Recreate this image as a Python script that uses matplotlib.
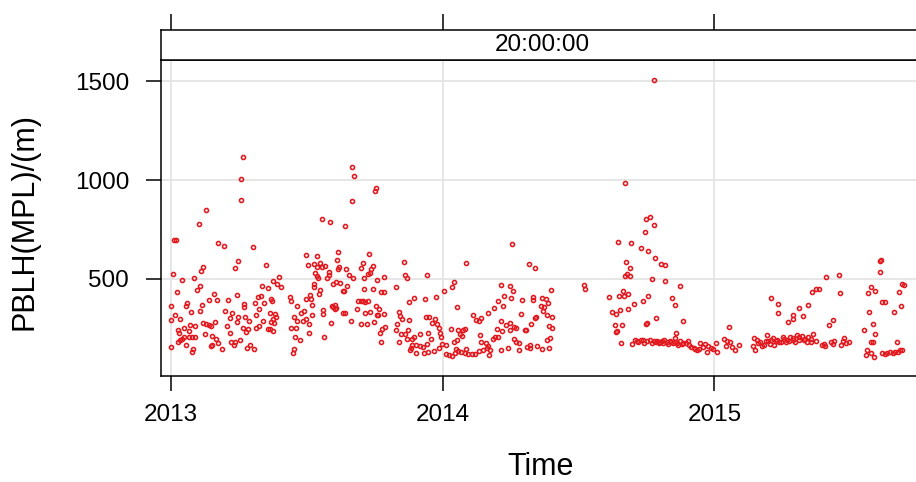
import numpy as np
import matplotlib
matplotlib.use("Agg")
import matplotlib.pyplot as plt

plt.rcParams['font.family'] = ['Liberation Sans', 'DejaVu Sans']

# ---------------- data (days since 2013-01-01, PBLH in m) ----------------
start_date = "2013-01-01"
strip_label = "20:00:00"
x_label = "Time"
y_label = "PBLH(MPL)/(m)"
year_ticks = ["2013-01-01", "2014-01-01", "2015-01-01"]
year_labels = ["2013", "2014", "2015"]
y_ticks = [500, 1000, 1500]

# Jan - May 2013
days_p1 = [97, 95, 94, 48, 38, 4, 7, 63, 71, 111, 90, 86, 44, 41, 128, 3, 31, 15, 39, 35,
           8, 123, 130, 58, 89, 52, 62, 77, 22, 21, 42, 0, 98, 99, 113, 117, 121, 125, 27, 40,
           73, 6, 13, 0, 82, 91, 100, 115, 118, 79, 89, 105, 124, 43, 48, 51, 54, 60, 26, 32,
           18, 10, 11, 76, 97, 104, 101, 115, 119, 24, 46, 56, 79, 130, 18, 24, 29, 33, 13, 10,
           15, 20, 1, 61, 64, 54, 55, 81, 85, 86, 93, 69, 30, 28, 103, 107, 112]
pblh_p1 = [1115, 1003, 897, 851, 776, 695, 695, 681, 664, 659, 588, 554, 559, 540, 571, 522, 503, 495, 464, 441,
           434, 464, 452, 424, 417, 393, 391, 393, 380, 364, 366, 361, 375, 356, 376, 410, 415, 377, 332, 339,
           339, 317, 297, 290, 325, 307, 305, 319, 346, 303, 280, 288, 288, 278, 273, 268, 261, 280, 268, 261,
           251, 242, 225, 259, 253, 244, 232, 253, 263, 236, 222, 212, 227, 246, 205, 203, 203, 207, 188, 180,
           195, 163, 156, 195, 175, 160, 165, 178, 163, 178, 190, 143, 146, 130, 148, 163, 143]

# May - Oct 2013
days_p2 = [244, 246, 275, 274, 244, 203, 214, 234, 182, 197, 224, 266, 223, 184, 193, 197, 201, 203, 207, 226,
           225, 236, 258, 256, 271, 269, 212, 194, 196, 198, 210, 212, 239, 245, 265, 268, 260, 146, 138, 143,
           148, 192, 192, 218, 222, 227, 237, 260, 272, 200, 199, 231, 233, 187, 182, 188, 135, 136, 160, 161,
           170, 190, 216, 218, 220, 220, 222, 251, 255, 258, 261, 265, 250, 231, 234, 261, 268, 275, 179, 175,
           190, 204, 205, 133, 140, 142, 137, 135, 139, 166, 169, 178, 181, 186, 161, 168, 242, 215, 256, 264,
           273, 133, 138, 186, 167, 206, 174, 166, 164]
pblh_p2 = [1066, 1022, 961, 946, 893, 802, 790, 769, 620, 615, 637, 628, 597, 571, 573, 561, 580, 559, 564, 559,
           552, 550, 578, 553, 566, 549, 537, 529, 512, 503, 505, 517, 519, 502, 526, 527, 503, 510, 488, 475,
           461, 475, 458, 474, 484, 479, 464, 447, 447, 444, 424, 436, 437, 420, 398, 400, 397, 390, 408, 390,
           363, 368, 364, 359, 346, 368, 351, 390, 390, 390, 385, 388, 347, 327, 325, 329, 334, 363, 336, 327,
           315, 322, 342, 325, 322, 307, 295, 281, 276, 305, 286, 286, 295, 271, 253, 249, 288, 276, 271, 271,
           280, 244, 234, 225, 208, 203, 190, 146, 122]

# Oct 2013 - Feb 2014
days_p3 = [313, 397, 314, 317, 344, 287, 277, 380, 378, 303, 283, 286, 367, 327, 320, 342, 356, 384, 280, 277,
           286, 278, 306, 308, 310, 343, 347, 355, 320, 351, 358, 406, 410, 414, 417, 304, 288, 284, 360, 362,
           363, 303, 309, 315, 318, 335, 346, 376, 386, 393, 395, 389, 391, 281, 415, 327, 324, 317, 350, 385,
           282, 307, 364, 369, 380, 417, 324, 330, 335, 339, 344, 321, 330, 340, 345, 353, 360, 322, 369, 374,
           378, 382, 386, 390, 395, 399, 404, 408, 414, 419, 383, 397]
pblh_p3 = [583, 578, 519, 502, 520, 507, 492, 483, 459, 461, 434, 431, 437, 405, 383, 397, 407, 359, 346, 315,
           322, 318, 331, 314, 298, 308, 308, 299, 292, 275, 271, 317, 292, 285, 303, 271, 258, 246, 249, 224,
           207, 241, 219, 219, 241, 222, 224, 246, 241, 241, 244, 222, 212, 224, 215, 205, 197, 197, 197, 190,
           180, 178, 171, 164, 178, 178, 164, 164, 158, 156, 168, 139, 125, 122, 130, 134, 149, 148, 117, 116,
           107, 126, 134, 132, 126, 117, 120, 117, 134, 141, 146, 144]

# Feb - Jul 2014
days_p4 = [458, 481, 489, 555, 556, 444, 456, 459, 448, 457, 446, 439, 472, 486, 487, 498, 504, 507, 497, 501,
           500, 511, 505, 512, 508, 512, 509, 505, 426, 434, 470, 490, 489, 484, 443, 450, 455, 461, 463, 456,
           445, 438, 476, 477, 440, 436, 433, 461, 464, 468, 423, 426, 429, 428, 443, 453, 467, 478, 483, 483,
           492, 498, 508, 424]
pblh_p4 = [676, 575, 554, 471, 447, 471, 466, 439, 415, 403, 364, 386, 391, 408, 391, 403, 400, 376, 361, 356,
           337, 441, 318, 305, 263, 251, 198, 188, 327, 353, 322, 308, 303, 271, 285, 266, 275, 256, 251, 241,
           238, 246, 239, 239, 207, 203, 196, 193, 180, 176, 173, 159, 139, 113, 141, 149, 139, 156, 152, 163,
           158, 146, 149, 149]

# Aug - Dec 2014
days_p5 = [649, 610, 638, 643, 649, 637, 600, 618, 632, 641, 650, 611, 658, 664, 616, 610, 613, 617, 646, 663,
           684, 607, 602, 608, 614, 588, 641, 634, 673, 677, 622, 614, 603, 592, 598, 652, 688, 638, 640, 596,
           606, 599, 598, 679, 677, 604, 619, 623, 626, 631, 634, 628, 643, 646, 649, 653, 655, 659, 662, 661,
           670, 674, 677, 681, 684, 688, 694, 699, 704, 707, 711, 636, 640, 651, 657, 666, 668, 672, 680, 686,
           692, 696, 702, 709]
pblh_p5 = [1505, 985, 803, 814, 775, 739, 686, 683, 658, 642, 608, 583, 576, 571, 554, 512, 522, 514, 498, 490,
           464, 436, 415, 415, 422, 408, 412, 390, 405, 369, 373, 349, 344, 332, 324, 300, 286, 269, 278, 268,
           264, 236, 230, 227, 200, 174, 169, 188, 186, 191, 191, 180, 190, 173, 183, 183, 173, 187, 190, 173,
           185, 173, 181, 164, 183, 176, 185, 156, 144, 139, 173, 176, 183, 178, 180, 178, 171, 180, 176, 171,
           176, 163, 151, 146]

# Jan - May 2015
days_p6 = [806, 816, 815, 844, 856, 836, 835, 829, 849, 749, 714, 718, 722, 725, 728, 720, 732, 734, 743, 747,
           751, 746, 754, 757, 763, 783, 782, 785, 789, 791, 794, 797, 800, 802, 804, 808, 810, 814, 817, 820,
           822, 826, 828, 832, 835, 838, 841, 844, 847, 850, 854, 856, 787, 799, 806, 812, 824, 830, 836, 843,
           852]
pblh_p6 = [403, 371, 327, 352, 368, 319, 297, 283, 314, 258, 156, 169, 161, 151, 147, 132, 176, 129, 193, 185,
           180, 158, 153, 142, 166, 202, 159, 139, 173, 178, 158, 166, 217, 183, 171, 202, 166, 190, 178, 178,
           207, 181, 190, 207, 198, 181, 215, 207, 213, 190, 181, 207, 190, 185, 190, 183, 195, 185, 188, 190,
           195]

# May - Sep 2015
days_p7 = [952, 954, 952, 880, 897, 982, 984, 866, 871, 861, 940, 946, 936, 899, 978, 955, 959, 981, 938, 971,
           889, 884, 943, 931, 946, 862, 860, 867, 859, 877, 878, 875, 886, 891, 889, 900, 902, 904, 906, 910,
           940, 943, 935, 940, 934, 944, 955, 959, 962, 966, 970, 973, 976, 979, 982, 975]
pblh_p7 = [590, 593, 536, 507, 519, 473, 471, 451, 451, 434, 461, 437, 430, 427, 432, 381, 383, 361, 332, 332,
           293, 268, 273, 242, 222, 219, 195, 187, 181, 169, 161, 164, 181, 183, 169, 163, 185, 198, 176, 180,
           178, 178, 141, 125, 112, 103, 122, 120, 122, 127, 125, 127, 130, 139, 139, 180]

# ---------------- build ----------------
all_days = np.array(days_p1 + days_p2 + days_p3 + days_p4 + days_p5 + days_p6 + days_p7)
all_pblh = np.array(pblh_p1 + pblh_p2 + pblh_p3 + pblh_p4 + pblh_p5 + pblh_p6 + pblh_p7)
dates = np.datetime64(start_date) + all_days.astype('timedelta64[D]')

W, H = 916, 482
fig = plt.figure(figsize=(W / 100, H / 100), dpi=100)


def px_rect(l, t, r, b):
    return [l / W, 1 - b / H, (r - l) / W, (b - t) / H]


ax = fig.add_axes(px_rect(161, 60, 923, 376))
sax = fig.add_axes(px_rect(161, 30, 923, 60), sharex=ax)

red = '#E2191E'
ax.plot(dates, all_pblh, linestyle='none', marker='o', mfc='none', mec=red,
        ms=2.9, mew=1.15, zorder=3)

x0 = np.datetime64(start_date) - np.timedelta64(13, 'D')
x1 = np.datetime64(start_date) + np.timedelta64(1010, 'D')
ax.set_xlim(x0, x1)
ax.set_ylim(8, 1608)

tick_dates = [np.datetime64(t) for t in year_ticks]
ax.set_xticks(tick_dates)
ax.set_xticklabels(year_labels)
ax.set_yticks(y_ticks)
ax.set_yticklabels([str(v) for v in y_ticks])

ax.grid(True, color='#E4E4E4', lw=1.3, zorder=0)
ax.set_axisbelow(True)

for s in ax.spines.values():
    s.set_linewidth(1.1)
    s.set_color('black')
ax.spines['right'].set_visible(False)

ax.tick_params(axis='both', direction='out', length=11, width=1.1, labelsize=17.5,
               colors='black', top=False, right=False)
ax.tick_params(axis='y', pad=12)
ax.tick_params(axis='x', pad=9)

# strip
sax.set_ylim(0, 1)
for s in sax.spines.values():
    s.set_linewidth(1.1)
    s.set_color('black')
sax.spines['right'].set_visible(False)
sax.tick_params(axis='x', which='both', bottom=False, labelbottom=False,
                top=True, labeltop=False, direction='out', length=11.5, width=1.1)
sax.tick_params(axis='y', left=False, labelleft=False)
sax.set_facecolor('white')
sax.text(0.5, 0.5, strip_label, transform=sax.transAxes, ha='center', va='center',
         fontsize=17.5)

fig.text(541 / W, 1 - 467 / H, x_label, ha='center', va='center', fontsize=22)
fig.text(25 / W, 1 - 222 / H, y_label, ha='center', va='center', rotation=90, fontsize=22)

fig.savefig('out.png', dpi=100)
